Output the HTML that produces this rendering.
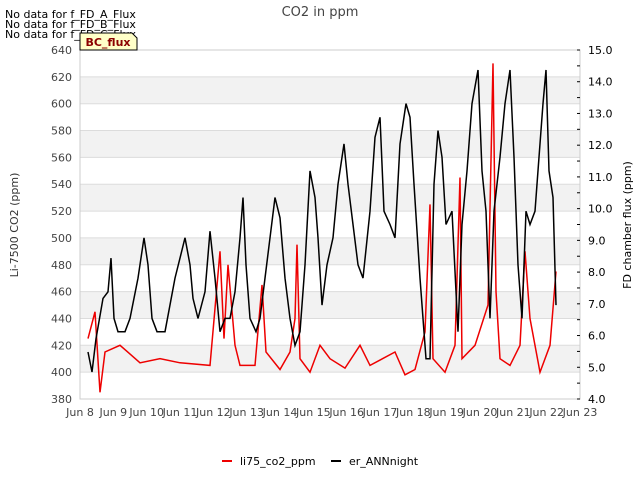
<!DOCTYPE html>
<html><head><meta charset="utf-8"><style>
body{margin:0;background:#fff;font-family:"Liberation Sans","DejaVu Sans",sans-serif}
svg text{font-family:"DejaVu Sans","Liberation Sans",sans-serif}
</style></head><body>
<svg id="c" width="640" height="480" xmlns="http://www.w3.org/2000/svg">
<rect width="640" height="480" fill="#fff"/>
<text x="320" y="16" text-anchor="middle" font-size="13" fill="#444">CO2 in ppm</text>
<g id="grid"></g>
<g id="axes"></g>
<g id="series"></g>
<text x="5" y="18" font-size="11" fill="#000">No data for f_FD_A_Flux</text>
<text x="5" y="28" font-size="11" fill="#000">No data for f_FD_B_Flux</text>
<text x="5" y="38" font-size="11" fill="#000">No data for f_FD_C_Flux</text>
<g>
<path d="M80,50 L80,33 L132,33 L137,38 L137,50 Z" fill="#ffffc8" stroke="#000" stroke-width="1"/>
<text x="108" y="46" text-anchor="middle" font-size="11" font-weight="bold" fill="#8b0000">BC_flux</text>
</g>
<text transform="translate(18,225) rotate(-90)" text-anchor="middle" font-size="11" fill="#333">Li-7500 CO2 (ppm)</text>
<text transform="translate(631,225) rotate(-90)" text-anchor="middle" font-size="11" fill="#000">FD chamber flux (ppm)</text>
<g>
<g><line x1="222" y1="461" x2="232" y2="461" stroke="#e00" stroke-width="2"/><text x="240" y="465" font-size="11">li75_co2_ppm</text></g>
<g><line x1="331" y1="461" x2="341" y2="461" stroke="#000" stroke-width="2"/><text x="349" y="465" font-size="11">er_ANNnight</text></g>
</g>
</svg>
<script>
const redDays=[.24,.45,.60,.75,1.20,1.80,2.40,3.00,3.90,4.20,4.32,4.44,4.65,4.80,5.25,5.46,5.58,6.00,6.30,6.45,6.51,6.60,6.90,7.20,7.50,7.95,8.40,8.70,9.45,9.75,10.05,10.35,10.50,10.59,10.95,11.25,11.40,11.46,11.85,12.24,12.39,12.48,12.60,12.90,13.20,13.35,13.50,13.80,14.10,14.28];
const redPpm=[425,445,385,415,420,407,410,407,405,490,425,480,420,405,405,465,415,402,415,440,495,410,400,420,410,403,420,405,415,398,402,430,525,410,400,420,545,410,420,450,630,460,410,405,420,490,440,400,420,475];
const blackDays=[.24,.36,.48,.69,.84,.93,1.02,1.14,1.35,1.50,1.74,1.92,2.04,2.16,2.31,2.55,2.85,3.00,3.15,3.30,3.39,3.54,3.75,3.90,4.05,4.20,4.35,4.50,4.65,4.80,4.89,4.98,5.10,5.28,5.40,5.55,5.70,5.85,6.00,6.15,6.30,6.45,6.60,6.75,6.90,7.05,7.14,7.26,7.41,7.59,7.74,7.92,8.04,8.19,8.34,8.49,8.70,8.85,9.00,9.12,9.30,9.45,9.60,9.78,9.90,10.02,10.20,10.38,10.50,10.62,10.74,10.86,10.98,11.16,11.34,11.46,11.61,11.76,11.94,12.06,12.18,12.30,12.42,12.60,12.75,12.90,13.02,13.14,13.26,13.38,13.50,13.65,13.77,13.89,13.98,14.07,14.19,14.28];
const blackFlux=[5.48,4.85,5.90,7.17,7.38,8.44,6.54,6.12,6.12,6.54,7.81,9.08,8.23,6.54,6.12,6.12,7.81,8.44,9.08,8.23,7.17,6.54,7.38,9.29,7.81,6.12,6.54,6.54,7.38,9.08,10.35,8.23,6.54,6.12,6.54,7.81,9.08,10.35,9.71,7.81,6.54,5.69,6.12,8.23,11.19,10.35,9.08,6.96,8.23,9.08,10.77,12.04,10.77,9.50,8.23,7.81,9.92,12.25,12.88,9.92,9.50,9.08,12.04,13.31,12.88,10.77,7.81,5.27,5.27,10.77,12.46,11.62,9.50,9.92,6.12,9.50,11.19,13.31,14.37,11.19,9.92,6.54,9.92,11.62,13.31,14.37,11.62,8.23,6.54,9.92,9.50,9.92,11.62,13.31,14.37,11.19,10.35,6.96];
const xTickLabels=["Jun 8","Jun 9","Jun 10","Jun 11","Jun 12","Jun 13","Jun 14","Jun 15","Jun 16","Jun 17","Jun 18","Jun 19","Jun 20","Jun 21","Jun 22","Jun 23"];
const leftTicks=[380,400,420,440,460,480,500,520,540,560,580,600,620,640];
const rightTicks=[4,5,6,7,8,9,10,11,12,13,14,15];

const L=80,R=580,T=50,B=399,NS="http://www.w3.org/2000/svg";
const x=d=>L+d*(R-L)/15;
const yL=v=>B-(v-380)*(B-T)/260;
const yR=v=>B-(v-4)*(B-T)/11;
function mk(p,tag,at){const e=document.createElementNS(NS,tag);for(const k in at)e.setAttribute(k,at[k]);p.appendChild(e);return e;}
const grid=document.getElementById('grid'),axes=document.getElementById('axes'),ser=document.getElementById('series');
for(let i=0;i<leftTicks.length-1;i++){
  if(leftTicks[i]>=400&&((leftTicks[i]-400)/20)%2===0){
    const r=mk(grid,'rect',{x:L,y:yL(leftTicks[i+1]),width:R-L,height:yL(leftTicks[i])-yL(leftTicks[i+1]),fill:'#f2f2f2'});
    
    
  }
}
leftTicks.forEach(v=>{
  const g=mk(grid,'line',{x1:L,x2:R,y1:yL(v),y2:yL(v),stroke:'#dcdcdc','stroke-width':1});
  
  
  const t=mk(axes,'text',{x:L-8,y:yL(v)+4,'text-anchor':'end','font-size':11,fill:'#444'});
  t.textContent=v;
  
  
});
mk(axes,'rect',{x:L,y:T,width:R-L,height:B-T,fill:'none',stroke:'#ccc','stroke-width':1});
xTickLabels.forEach((s,i)=>{
  const t=mk(axes,'text',{x:x(i),y:B+17,'text-anchor':'middle','font-size':11,fill:'#444'});
  t.textContent=s;
  
  
});
rightTicks.forEach(v=>{
  const l=mk(axes,'line',{x1:R-3,x2:R,y1:yR(v),y2:yR(v),stroke:'#000'});
  
  
  if(v<15){const m=mk(axes,'line',{x1:R-3,x2:R,y1:yR(v+0.5),y2:yR(v+0.5),stroke:'#000'});
  
  }
  const t=mk(axes,'text',{x:R+8,y:yR(v)+4,'font-size':11,fill:'#000'});
  t.textContent=v.toFixed(1);
  
  
});
const rp=mk(ser,'path',{d:redDays.map((d,i)=>(i?'L':'M')+x(d).toFixed(1)+','+yL(redPpm[i]).toFixed(1)).join(''),fill:'none',stroke:'#e00','stroke-width':1.5});


const bp=mk(ser,'path',{d:blackDays.map((d,i)=>(i?'L':'M')+x(d).toFixed(1)+','+yR(blackFlux[i]).toFixed(1)).join(''),fill:'none',stroke:'#000','stroke-width':1.5});


</script>
</body></html>
